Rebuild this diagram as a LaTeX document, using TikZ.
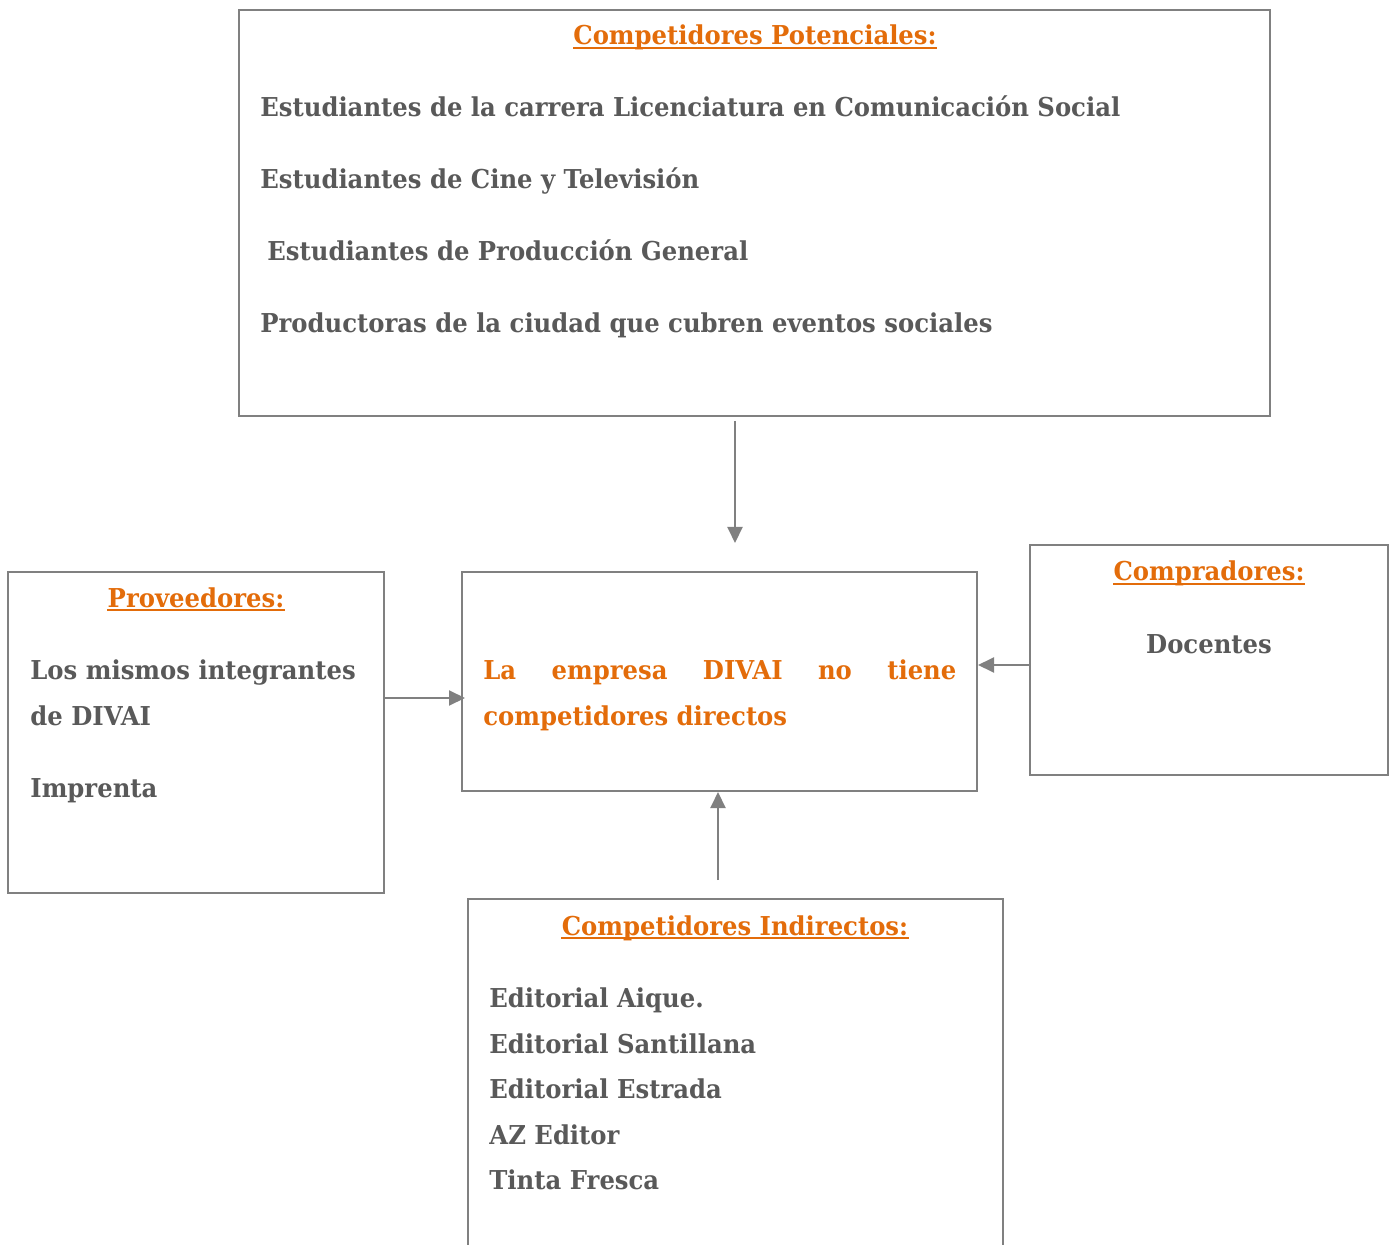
\documentclass[tikz,border=0pt]{standalone}
\usepackage{fontspec}
\setmainfont{DejaVu Serif}[FakeStretch=0.935]
\usetikzlibrary{arrows.meta,fit}
\definecolor{txtgray}{HTML}{595959}
\definecolor{orng}{HTML}{E36C0A}
\definecolor{linegray}{HTML}{808080}
\newcommand{\fsz}{\fontsize{13}{15}\selectfont\bfseries}
\begin{document}
\begin{tikzpicture}[x=0.5pt,y=-0.5pt,
  box/.style={draw=linegray, line width=1pt, inner sep=0pt},
  txt/.style={inner sep=0pt, text=txtgray, font=\fsz, anchor=base west},
  ttl/.style={inner sep=0pt, text=orng, font=\fsz, anchor=base},
  uline/.style={draw=orng, line width=0.9pt},
  arr/.style={draw=linegray, line width=1pt, -{Triangle[length=8pt,width=7.5pt]}}]
\clip (0,0) rectangle (1391,1245);
% boxes
\node[box, fit={(239,10) (1270,416)}] (top) {};
\node[box, fit={(462,572) (977,791)}] (center) {};
\node[box, fit={(8,572) (384,893)}] (prov) {};
\node[box, fit={(1030,545) (1388,775)}] (comp) {};
\node[box, fit={(468,899) (1003,1280)}] (indir) {};
% top box text
\node[ttl] (ttop) at (755,45) {Competidores Potenciales:};
\draw[uline] ([yshift=-1.6pt]ttop.base west) -- ([yshift=-1.6pt]ttop.base east);
\node[txt] (p1) at (260,117) {Estudiantes de la carrera Licenciatura en Comunicación Social};
\node[txt] (p2) at (260,189) {Estudiantes de Cine y Televisión};
\node[txt] (p3) at (267,261) {Estudiantes de Producción General};
\node[txt] (p4) at (260,333) {Productoras de la ciudad que cubren eventos sociales};
% center text
\node[txt, text=orng] (c1) at (483,679) {\makebox[236.5pt][s]{La empresa DIVAI no tiene}};
\node[txt, text=orng] (c2) at (483,725) {competidores directos};
% proveedores
\node[ttl] (tprov) at (196,607) {Proveedores:};
\draw[uline] ([yshift=-1.6pt]tprov.base west) -- ([yshift=-1.6pt]tprov.base east);
\node[txt] (v1) at (30,679) {Los mismos integrantes};
\node[txt] (v2) at (30,725) {de DIVAI};
\node[txt] (v3) at (30,797) {Imprenta};
% compradores
\node[ttl] (tcomp) at (1209,581) {Compradores:};
\draw[uline] ([yshift=-1.6pt]tcomp.base west) -- ([yshift=-1.6pt]tcomp.base east);
\node[ttl, text=txtgray] (k1) at (1209,653) {Docentes};
% indirectos
\node[ttl] (tind) at (735,935) {Competidores Indirectos:};
\draw[uline] ([yshift=-1.6pt]tind.base west) -- ([yshift=-1.6pt]tind.base east);
\node[txt] (i1) at (489,1007) {Editorial Aique.};
\node[txt] (i2) at (489,1053) {Editorial Santillana};
\node[txt] (i3) at (489,1098) {Editorial Estrada};
\node[txt] (i4) at (489,1144) {AZ Editor};
\node[txt] (i5) at (489,1189) {Tinta Fresca};
% arrows
\coordinate (a1s) at (735,421);
\coordinate (a1e) at (735,543);
\draw[arr] (a1s) -- (a1e);
\coordinate (lrow) at (0,698);
\draw[arr] (prov.east |- lrow) -- ([xshift=2pt]center.west |- lrow);
\coordinate (rrow) at (0,665);
\draw[arr] (comp.west |- rrow) -- (center.east |- rrow);
\coordinate (a4s) at (718,880);
\draw[arr] (a4s) -- (a4s |- center.south);
\end{tikzpicture}
\end{document}
